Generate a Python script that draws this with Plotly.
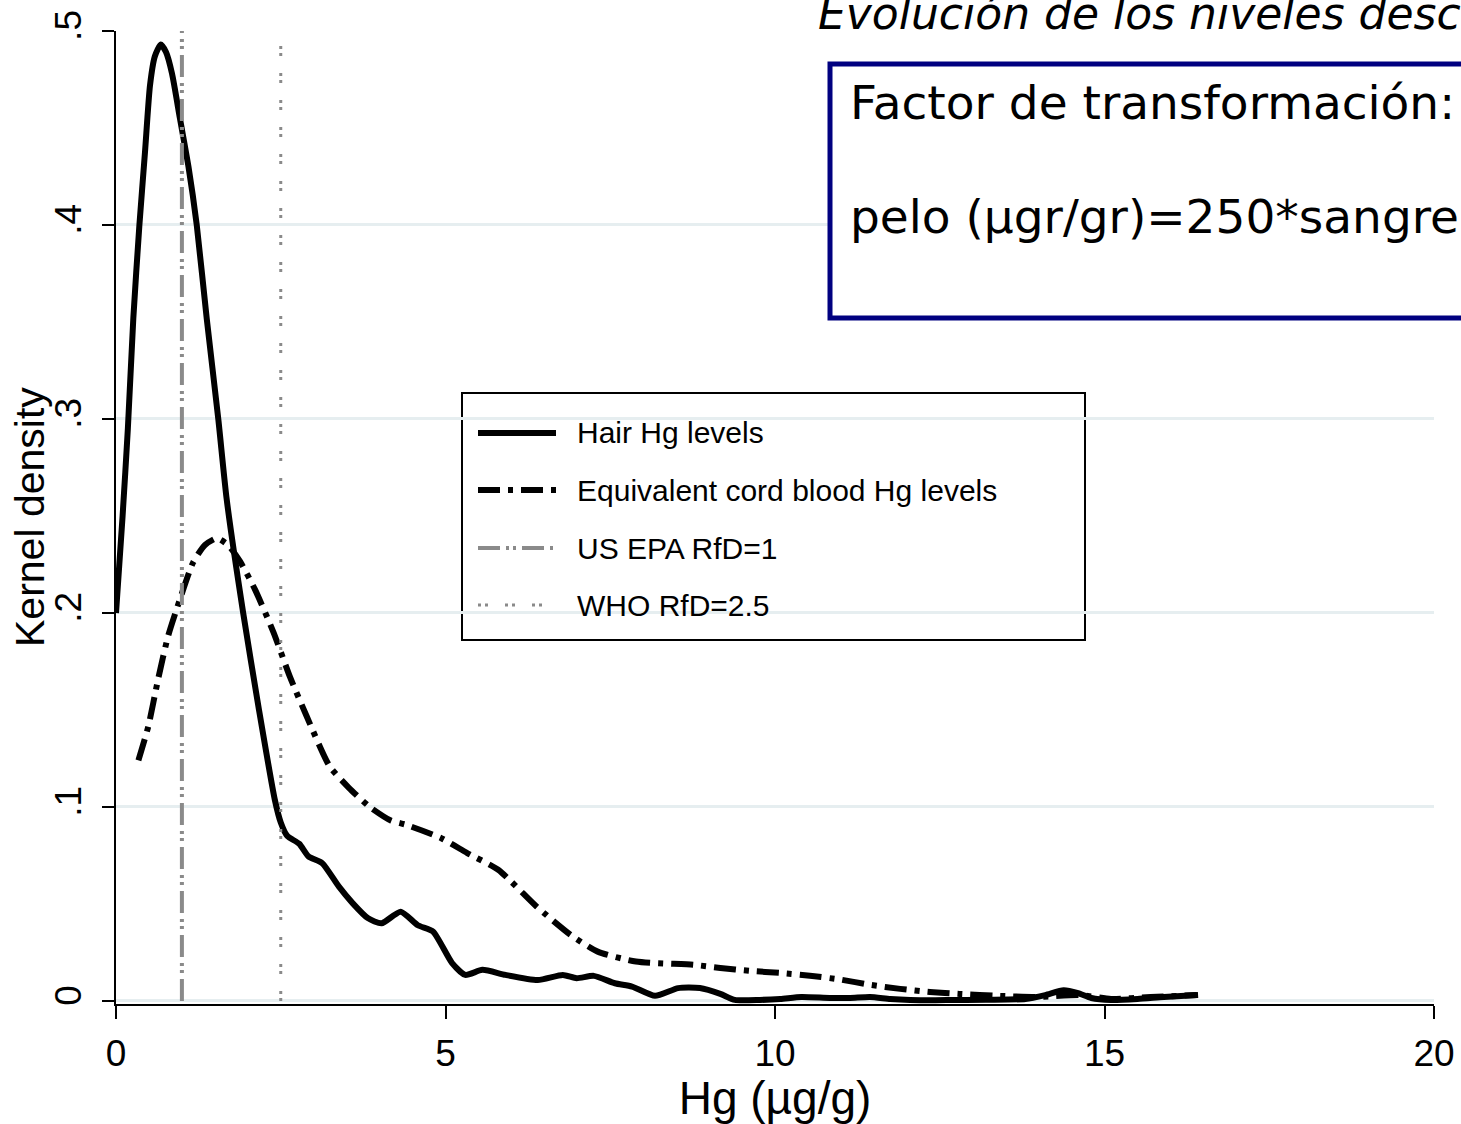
import plotly.graph_objects as go

# ---------------- data ----------------
hair_x = [0.0, 0.1, 0.18, 0.263, 0.354, 0.44, 0.516, 0.59, 0.68, 0.76, 0.85, 0.97, 1.1, 1.225, 1.376,
          1.552, 1.68, 1.93, 2.17, 2.41, 2.5, 2.6, 2.78, 2.92, 3.13, 3.38, 3.59,
          3.82, 4.03, 4.32, 4.58, 4.81, 5.1, 5.3, 5.56, 5.91, 6.4, 6.78, 6.99, 7.25, 7.57, 7.83,
          8.18, 8.53, 8.86, 9.17, 9.39, 9.77, 10.08, 10.4, 10.83, 11.14, 11.44, 11.75, 12.05, 12.6,
          13.2, 13.8, 14.1, 14.38, 14.6, 14.8, 15.1, 15.5, 15.9, 16.42]
hair_y = [0.2, 0.25, 0.295, 0.352, 0.3995, 0.4376, 0.472, 0.487, 0.493, 0.489, 0.478, 0.455, 0.43, 0.4, 0.352,
          0.3, 0.2585, 0.2, 0.15, 0.1037, 0.092, 0.085, 0.081, 0.0745, 0.071, 0.059, 0.0504,
          0.0427, 0.04, 0.046, 0.039, 0.0358, 0.0195, 0.0134, 0.016, 0.0134, 0.0108, 0.0134, 0.0117, 0.0129, 0.0091, 0.0074,
          0.0026, 0.0066, 0.0066, 0.0036, 0.0005, 0.0005, 0.001, 0.002, 0.0015, 0.0015, 0.002, 0.001, 0.0005, 0.0004,
          0.0006, 0.001, 0.003, 0.0055, 0.004, 0.0015, 0.0005, 0.001, 0.002, 0.003]

cord_x = [0.34, 0.49, 0.64, 0.79, 0.97, 1.17, 1.35, 1.53, 1.7, 1.88, 2.11, 2.39, 2.64, 2.89, 3.24,
          3.53, 3.85, 4.17, 4.4, 4.93, 5.33, 5.8, 6.38, 6.9, 7.31, 7.89, 8.76, 9.17, 9.62, 10.08,
          10.53, 10.99, 11.44, 11.9, 12.35, 12.8, 13.4, 14.0, 14.63, 15.1, 15.7, 16.4]
cord_y = [0.124, 0.1415, 0.166, 0.188, 0.207, 0.226, 0.235, 0.2385, 0.235, 0.2267, 0.212, 0.19, 0.167, 0.147, 0.121,
          0.11, 0.1, 0.093, 0.0908, 0.084, 0.0762, 0.0676, 0.0487, 0.034, 0.0254, 0.0203, 0.0186, 0.017, 0.0155, 0.0144,
          0.013, 0.011, 0.0083, 0.0062, 0.0046, 0.0036, 0.0026, 0.002, 0.003, 0.001, 0.002, 0.003]

epa_value = 1.0
who_value = 2.5
ref_line_span = [0.0, 0.5]

series_names = ["Hair Hg levels", "Equivalent cord blood Hg levels", "US EPA RfD=1", "WHO RfD=2.5"]

y_tickvals = [0, 0.1, 0.2, 0.3, 0.4, 0.5]
y_ticktext = ["0", ".1", ".2", ".3", ".4", ".5"]
x_tickvals = [0, 5, 10, 15, 20]
x_ticktext = ["0", "5", "10", "15", "20"]

title_text = "Evolución de los niveles desc"
box_line1 = "Factor de transformación:"
box_line2 = "pelo (µgr/gr)=250*sangre(µgr/ml)"
x_title = "Hg (µg/g)"
y_title = "Kernel density"

# ---------------- layout helpers ----------------
W, H = 1461, 1124
ML, MR, MT, MB = 116, 27, 31, 120
PW, PH = W - ML - MR, H - MT - MB


def px_x(p):
    return (p - ML) / PW


def px_y(p):
    return (H - MB - p) / PH


styles = [
    dict(color="black", width=6, dash="solid"),
    dict(color="black", width=6, dash="22px,8px,5px,8px"),
    dict(color="#8a8a8a", width=4, dash="22px,6px,3px,4px,3px,6px"),
    dict(color="#8a8a8a", width=3, dash="3px,4px,3px,17px"),
]

fig = go.Figure()
fig.add_trace(go.Scatter(x=hair_x, y=hair_y, mode="lines", name=series_names[0],
                         line=dict(shape="spline", smoothing=0.6, **styles[0]), showlegend=False))
fig.add_trace(go.Scatter(x=cord_x, y=cord_y, mode="lines", name=series_names[1],
                         line=dict(shape="spline", smoothing=0.6, **styles[1]), showlegend=False))
fig.add_trace(go.Scatter(x=[epa_value, epa_value], y=ref_line_span, mode="lines", name=series_names[2],
                         line=styles[2], showlegend=False))
fig.add_trace(go.Scatter(x=[who_value, who_value], y=ref_line_span, mode="lines", name=series_names[3],
                         line=styles[3], showlegend=False))

shapes = []
annotations = []

# legend (drawn manually to match sample length / spacing)
shapes.append(dict(type="rect", xref="paper", yref="paper",
                   x0=px_x(462), x1=px_x(1085), y0=px_y(640), y1=px_y(393),
                   line=dict(color="black", width=2), fillcolor="white", layer="below"))
row_py = [433, 490, 548, 605]
for name, st, py in zip(series_names, styles, row_py):
    shapes.append(dict(type="line", xref="paper", yref="paper",
                       x0=px_x(478), x1=px_x(556), y0=px_y(py), y1=px_y(py),
                       line=dict(color=st["color"], width=st["width"], dash=st["dash"])))
    annotations.append(dict(text=name, xref="paper", yref="paper", x=px_x(575), y=px_y(py),
                            xanchor="left", yanchor="middle", showarrow=False,
                            font=dict(family="Liberation Sans, Arial", size=30, color="black")))

# info box (continues past the right edge, as in the source)
shapes.append(dict(type="rect", xref="paper", yref="paper",
                   x0=px_x(830), x1=px_x(1480), y0=px_y(318), y1=px_y(64),
                   line=dict(color="#000080", width=5), fillcolor="white", layer="above"))
annotations.append(dict(text=box_line1, xref="paper", yref="paper", x=px_x(848), y=px_y(102),
                        xanchor="left", yanchor="middle", showarrow=False,
                        font=dict(family="DejaVu Sans", size=47, color="black")))
annotations.append(dict(text=box_line2, xref="paper", yref="paper", x=px_x(848), y=px_y(216),
                        xanchor="left", yanchor="middle", showarrow=False,
                        font=dict(family="DejaVu Sans", size=47, color="black")))
# title (cut at top/right)
annotations.append(dict(text="<i>" + title_text + "</i>", xref="paper", yref="paper",
                        x=px_x(816), y=px_y(14), xanchor="left", yanchor="middle", showarrow=False,
                        font=dict(family="DejaVu Sans", size=44, color="black")))
# y axis title
annotations.append(dict(text=y_title, xref="paper", yref="paper", x=px_x(30), y=px_y(517),
                        xanchor="center", yanchor="middle", textangle=-90, showarrow=False,
                        font=dict(family="Liberation Sans, Arial", size=41, color="black")))

fig.update_layout(
    width=W, height=H,
    margin=dict(l=ML, r=MR, t=MT, b=MB, pad=0, autoexpand=False),
    paper_bgcolor="white", plot_bgcolor="white",
    shapes=shapes, annotations=annotations,
    showlegend=False,
    font=dict(family="Liberation Sans, Arial", color="black"),
)
fig.update_xaxes(range=[0, 20], tickvals=x_tickvals, ticktext=x_ticktext,
                 showgrid=False, zeroline=False, automargin=False,
                 showline=True, linecolor="black", linewidth=2,
                 ticks="outside", ticklen=13, tickwidth=2, tickcolor="black",
                 ticklabelstandoff=3,
                 tickfont=dict(size=37, family="Liberation Sans, Arial"),
                 title=dict(text=x_title, font=dict(size=46, family="Liberation Sans, Arial"), standoff=2))
fig.update_yaxes(range=[-0.0016, 0.5], tickvals=y_tickvals, ticktext=y_ticktext,
                 showgrid=True, gridcolor="#e6eef0", gridwidth=3, zeroline=False, automargin=False,
                 showline=True, linecolor="black", linewidth=2,
                 ticks="outside", ticklen=12, tickwidth=2, tickcolor="black",
                 tickangle=-90, ticklabelstandoff=6,
                 tickfont=dict(size=37, family="Liberation Sans, Arial"))

fig.write_html("out.html", config={"displayModeBar": False},
               post_script="document.body.style.margin='0';document.body.style.overflow='hidden';"
                           "document.documentElement.style.overflow='hidden';")
